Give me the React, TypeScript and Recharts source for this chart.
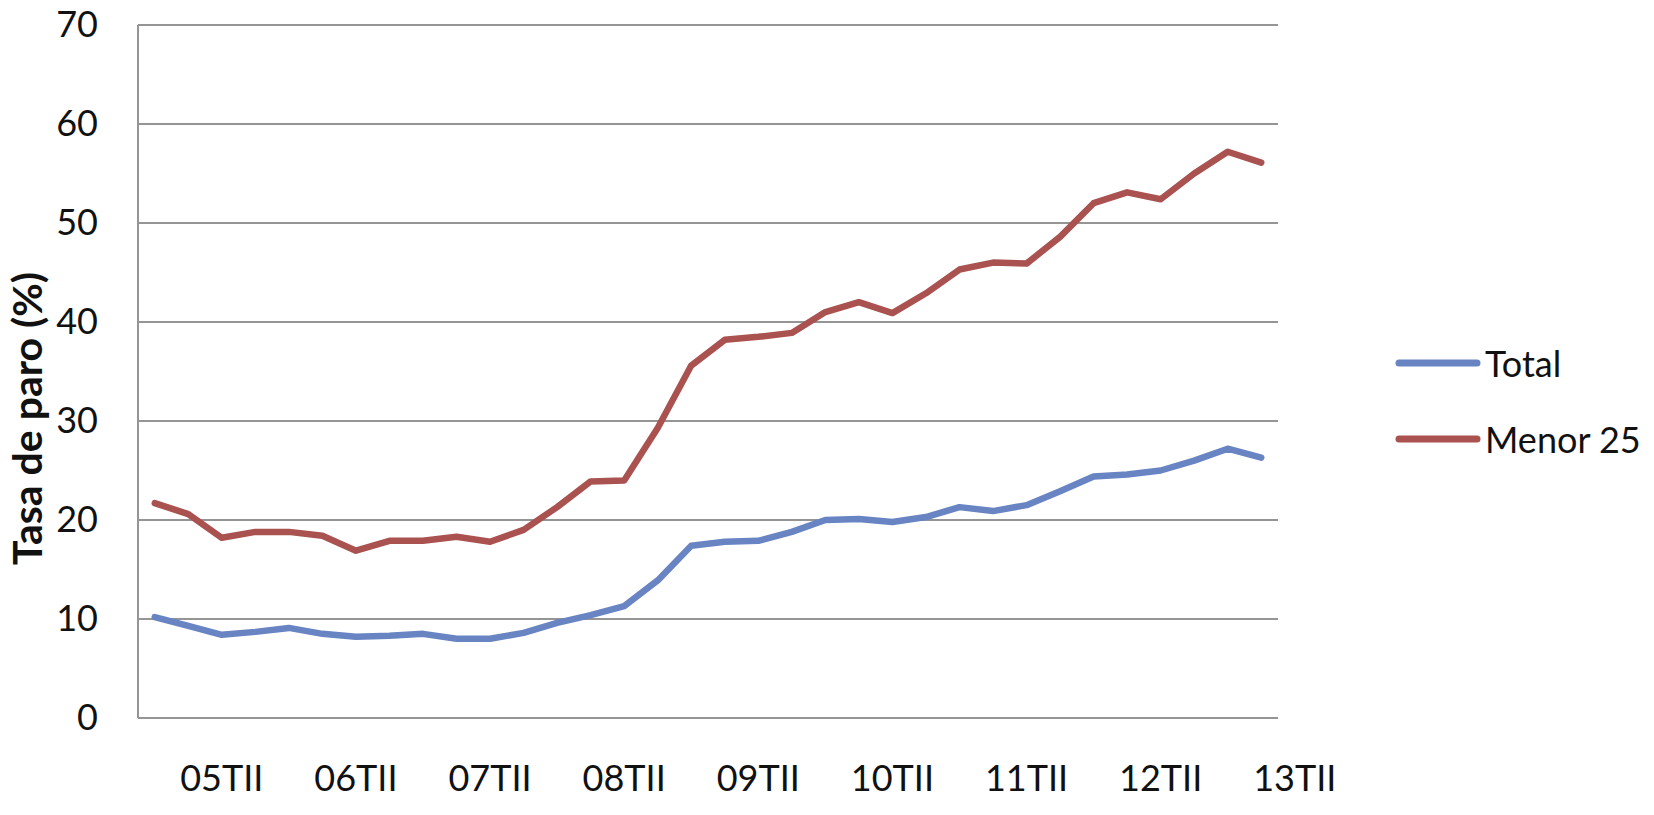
import React from "react";
import { LineChart, Line, XAxis, YAxis, CartesianGrid, Legend, Label } from "recharts";

const categories = [
  "05TI", "05TII", "05TIII", "05TIV",
  "06TI", "06TII", "06TIII", "06TIV",
  "07TI", "07TII", "07TIII", "07TIV",
  "08TI", "08TII", "08TIII", "08TIV",
  "09TI", "09TII", "09TIII", "09TIV",
  "10TI", "10TII", "10TIII", "10TIV",
  "11TI", "11TII", "11TIII", "11TIV",
  "12TI", "12TII", "12TIII", "12TIV",
  "13TI", "13TII",
];

const totalValues = [
  10.2, 9.3, 8.4, 8.7,
  9.1, 8.5, 8.2, 8.3,
  8.5, 8.0, 8.0, 8.6,
  9.6, 10.4, 11.3, 13.9,
  17.4, 17.8, 17.9, 18.8,
  20.0, 20.1, 19.8, 20.3,
  21.3, 20.9, 21.5, 22.9,
  24.4, 24.6, 25.0, 26.0,
  27.2, 26.3,
];

const menor25Values = [
  21.7, 20.6, 18.2, 18.8,
  18.8, 18.4, 16.9, 17.9,
  17.9, 18.3, 17.8, 19.0,
  21.3, 23.9, 24.0, 29.3,
  35.6, 38.2, 38.5, 38.9,
  41.0, 42.0, 40.9, 42.9,
  45.3, 46.0, 45.9, 48.6,
  52.0, 53.1, 52.4, 55.0,
  57.2, 56.1,
];

const xTickLabels = ["05TII", "06TII", "07TII", "08TII", "09TII", "10TII", "11TII", "12TII", "13TII"];
const yTicks = [0, 10, 20, 30, 40, 50, 60, 70];

const seriesNames = { total: "Total", menor: "Menor 25" };
const BLUE = "#6884c2";
const RED = "#aa524f";
const GRID = "#959595";
const FONT = "Lato, 'Open Sans', sans-serif";

const data = categories.map((q, i) => ({ q, total: totalValues[i], menor: menor25Values[i] }));

const CHART_W = 1654;
const CHART_H = 805;
const MARGIN = { top: 25, right: 376, bottom: 0, left: 0 };
const Y_AXIS_W = 138;
const X_AXIS_H = CHART_H - 718;
const PLOT_W = CHART_W - MARGIN.right - MARGIN.left - Y_AXIS_W;
const BAND = PLOT_W / categories.length;

const XTick = (props: any) => {
  const { x, y, payload } = props;
  return (
    <text x={x + BAND} y={y + 73} textAnchor="middle" fontFamily={FONT} fontSize={36} fill="#111">
      {payload.value}
    </text>
  );
};

const YTick = (props: any) => {
  const { x, y, payload } = props;
  return (
    <text x={x - 40} y={y + 12} textAnchor="end" fontFamily={FONT} fontSize={36} fill="#111">
      {payload.value}
    </text>
  );
};

const YLabel = (props: any) => {
  const vb = props.viewBox || { x: 0, y: 0, width: 0, height: 0 };
  const cx = vb.x + 26;
  const cy = vb.y + vb.height / 2 + 47;
  return (
    <text
      x={cx}
      y={cy}
      transform={`rotate(-90 ${cx} ${cy})`}
      textAnchor="middle"
      dominantBaseline="central"
      fontFamily={FONT}
      fontWeight="bold"
      fontSize={41}
      fill="#111"
    >
      Tasa de paro (%)
    </text>
  );
};

const LegendContent = () => {
  const items = [
    { name: seriesNames.total, color: BLUE },
    { name: seriesNames.menor, color: RED },
  ];
  return (
    <div>
      {items.map((it) => (
        <div key={it.name} style={{ display: "flex", alignItems: "center", height: 76 }}>
          <svg width={86} height={12} style={{ display: "block" }}>
            <line x1={4} y1={6} x2={82} y2={6} stroke={it.color} strokeWidth={7} strokeLinecap="round" />
          </svg>
          <span style={{ fontFamily: FONT, fontSize: 36, color: "#111", marginLeft: 4, whiteSpace: "nowrap" }}>
            {it.name}
          </span>
        </div>
      ))}
    </div>
  );
};

export default function App() {
  return (
    <div style={{ width: CHART_W, height: CHART_H, background: "#fff", margin: "-8px 0 0 -8px" }}>
      <LineChart width={CHART_W} height={CHART_H} data={data} margin={MARGIN}>
        <CartesianGrid vertical={false} stroke={GRID} strokeWidth={2} />
        <XAxis
          dataKey="q"
          ticks={xTickLabels}
          interval={0}
          height={X_AXIS_H}
          padding={{ left: BAND / 2, right: BAND / 2 }}
          tickLine={false}
          tickSize={0}
          tickMargin={0}
          axisLine={{ stroke: GRID, strokeWidth: 2 }}
          tick={<XTick />}
        />
        <YAxis
          domain={[0, 70]}
          ticks={yTicks}
          width={Y_AXIS_W}
          tickLine={false}
          tickSize={0}
          tickMargin={0}
          axisLine={{ stroke: GRID, strokeWidth: 2 }}
          tick={<YTick />}
          interval={0}
        >
          <Label content={<YLabel />} />
        </YAxis>
        <Legend
          layout="vertical"
          align="center"
          verticalAlign="middle"
          wrapperStyle={{ left: 1395, top: 325, width: 255 }}
          content={<LegendContent />}
        />
        <Line
          type="linear"
          dataKey="total"
          name={seriesNames.total}
          stroke={BLUE}
          strokeWidth={6.5}
          strokeLinejoin="round"
          strokeLinecap="round"
          dot={false}
          activeDot={false}
          isAnimationActive={false}
        />
        <Line
          type="linear"
          dataKey="menor"
          name={seriesNames.menor}
          stroke={RED}
          strokeWidth={6.5}
          strokeLinejoin="round"
          strokeLinecap="round"
          dot={false}
          activeDot={false}
          isAnimationActive={false}
        />
      </LineChart>
    </div>
  );
}
